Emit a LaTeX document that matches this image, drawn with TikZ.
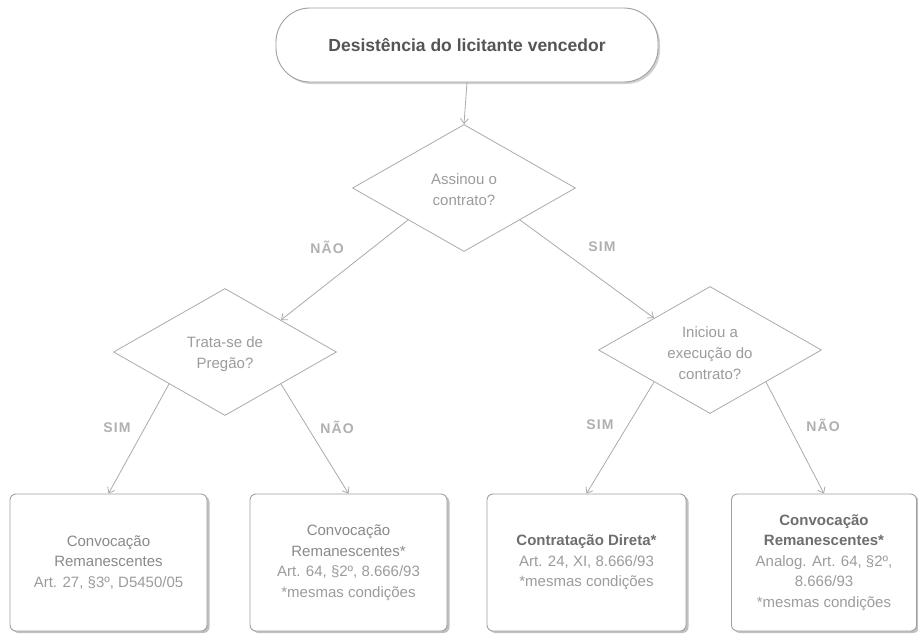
\documentclass[tikz,border=0pt]{standalone}
\usepackage{fontspec}
\setmainfont{Liberation Sans}
\newfontfamily\lblfont[LetterSpace=8]{Liberation Sans}
\usetikzlibrary{shapes.geometric,arrows.meta,shadows}
\definecolor{lineC}{HTML}{ABABAB}
\definecolor{boxC}{HTML}{A0A0A0}
\definecolor{txtC}{HTML}{9C9C9C}
\definecolor{titC}{HTML}{8A8A8A}
\definecolor{boldC}{HTML}{6E6E6E}
\definecolor{headC}{HTML}{555555}
\definecolor{lblC}{HTML}{B0B0B0}
\begin{document}
\begin{tikzpicture}[x=1pt,y=-1pt,
  conn/.style={draw=lineC, line width=0.8pt, -{Straight Barb[length=5pt,width=8pt]}},
  decision/.style={diamond, draw=lineC, line width=0.8pt, minimum width=223pt, minimum height=127pt, inner sep=0pt, fill=white},
  dtext/.style={align=center, text=txtC, font=\fontsize{15}{21}\selectfont, inner sep=0pt},
  startbox/.style={draw=boxC, line width=0.9pt, rounded corners=34pt, minimum width=382pt, minimum height=74pt, fill=white,
    drop shadow={shadow xshift=2pt, shadow yshift=-2pt, fill=black!30, opacity=0.6},
    font=\fontsize{17.5}{20}\bfseries\selectfont, text=headC},
  resbox/.style={draw=boxC, line width=0.9pt, rounded corners=6pt, minimum height=137pt, fill=white, align=center,
    drop shadow={shadow xshift=2.5pt, shadow yshift=-2pt, fill=black!35, opacity=0.7},
    font=\fontsize{15}{20.5}\selectfont, text=txtC, inner sep=0pt},
  lbl/.style={font=\fontsize{14}{16}\lblfont\bfseries\selectfont, text=lblC, inner sep=0pt}
]
\fill[white] (0,0) rectangle (918,633);
\useasboundingbox (0,0) rectangle (918,633);

\node[startbox] (start) at (467,45) {Desistência do licitante vencedor};

\node[decision] (d1) at (464,188) {};
\node[dtext] (t1) at (464,190) {Assinou o\\contrato?};

\node[decision] (d2) at (225,352) {};
\node[dtext] (t2) at (225,354) {Trata-se de\\Pregão?};

\node[decision] (d3) at (710,350) {};
\node[dtext] (t3) at (710,353) {Iniciou a\\execução do\\contrato?};

\node[resbox, minimum width=197pt] (b1) at (108.5,562.5)
  {\textcolor{titC}{Convocação}\\\textcolor{titC}{Remanescentes}\\Art. 27, §3º, D5450/05};
\node[resbox, minimum width=197pt] (b2) at (348.5,562.5)
  {\textcolor{titC}{Convocação}\\\textcolor{titC}{Remanescentes*}\\Art. 64, §2º, 8.666/93\\*mesmas condições};
\node[resbox, minimum width=199pt] (b3) at (586.5,562.5)
  {\textcolor{boldC}{\bfseries Contratação Direta*}\\Art. 24, XI, 8.666/93\\*mesmas condições};
\node[resbox, minimum width=185pt] (b4) at (824,562.5)
  {\textcolor{boldC}{\bfseries Convocação}\\\textcolor{boldC}{\bfseries Remanescentes*}\\Analog. Art. 64, §2º,\\8.666/93\\*mesmas condições};

\draw[conn] (start.south) -- (d1.north);
\draw[conn] (d1.south west) -- (d2.north east);
\draw[conn] (d1.south east) -- (d3.north west);
\draw[conn] (d2.south west) -- (b1.north);
\draw[conn] (d2.south east) -- (b2.north);
\draw[conn] (d3.south west) -- (b3.north);
\draw[conn] (d3.south east) -- (b4.north);

\node[lbl] (l1) at (327,247) {NÃO};
\node[lbl] (l2) at (602,247) {SIM};
\node[lbl] (l3) at (117,428) {SIM};
\node[lbl] (l4) at (337,427) {NÃO};
\node[lbl] (l5) at (600,425) {SIM};
\node[lbl] (l6) at (823,425) {NÃO};
\end{tikzpicture}
\end{document}
